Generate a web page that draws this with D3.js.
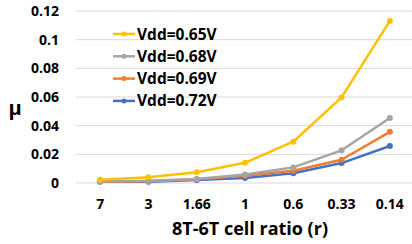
<!DOCTYPE html>
<html><head><meta charset="utf-8">
<script src="https://cdn.jsdelivr.net/npm/d3@7"></script>
<style>body{margin:0;background:#fff;} svg{display:block;}</style>
</head><body>
<svg id="c" width="412" height="244"></svg>
<script>
const categories = ["7","3","1.66","1","0.6","0.33","0.14"];
const seriesNames = ["Vdd=0.65V","Vdd=0.68V","Vdd=0.69V","Vdd=0.72V"];
const v065 = [0.0023,0.0040,0.0075,0.0141,0.0288,0.0597,0.1131];
const v068 = [0.0010,0.0015,0.0028,0.0060,0.0109,0.0228,0.0453];
const v069 = [0.0010,0.0013,0.0027,0.0050,0.0086,0.0162,0.0357];
const v072 = [0.0009,0.0009,0.0021,0.0035,0.0068,0.0139,0.0258];
const yTicks = [0,0.02,0.04,0.06,0.08,0.1,0.12];
const colors = ["#FFC000","#A5A5A5","#ED7D31","#4472C4"];
const seriesValues = [v065,v068,v069,v072];

(function(){
const svg = d3.select("#c");
const font = "'Open Sans', 'Liberation Sans', sans-serif";
const pL = 76, pR = 414, pT = 11, pB = 183;
const x = d3.scaleBand().domain(categories).range([pL, pR]);
const y = d3.scaleLinear().domain([0,0.12]).range([pB, pT]);

svg.append("g").selectAll("line").data(yTicks).join("line")
  .attr("x1", pL).attr("x2", pR)
  .attr("y1", d=>y(d)).attr("y2", d=>y(d))
  .attr("stroke", "#d9d9d9").attr("stroke-width", 1);

const yAxis = d3.axisLeft(y).tickValues(yTicks).tickSize(0).tickPadding(0)
  .tickFormat(d=>String(+d.toFixed(2)));
const ya = svg.append("g").attr("transform", `translate(59,0)`).call(yAxis);
ya.select(".domain").remove();
ya.selectAll("text").attr("font-family", font).attr("font-weight", "bold")
  .attr("font-size", 14).attr("fill", "#000");

const xAxis = d3.axisBottom(x).tickSize(0).tickPadding(0);
const xa = svg.append("g").attr("transform", `translate(0,199)`).call(xAxis);
xa.select(".domain").remove();
xa.selectAll("text").attr("font-family", font).attr("font-weight", "bold")
  .attr("font-size", 14).attr("fill", "#000");

svg.append("text").attr("x", 250).attr("y", 235).attr("text-anchor", "middle")
  .attr("font-family", font).attr("font-weight", "bold").attr("font-size", 18)
  .attr("fill", "#000").text("8T-6T cell ratio (r)");
svg.append("text").attr("x", 15).attr("y", 115).attr("text-anchor", "middle")
  .attr("font-family", font).attr("font-weight", "bold").attr("font-size", 20)
  .attr("fill", "#000").text("μ");

const line = d3.line().x((d,i)=>x(categories[i]) + x.bandwidth()/2).y(d=>y(d));
[3,2,1,0].forEach(k => {
  const g = svg.append("g");
  g.append("path").attr("d", line(seriesValues[k])).attr("fill", "none")
    .attr("stroke", colors[k]).attr("stroke-width", 2.5).attr("stroke-linejoin", "round");
  g.selectAll("circle").data(seriesValues[k]).join("circle")
    .attr("cx", (d,i)=>x(categories[i]) + x.bandwidth()/2).attr("cy", d=>y(d))
    .attr("r", 3).attr("fill", colors[k]);
});

const lg = svg.append("g");
seriesNames.forEach((n,i) => {
  const yy = 34 + i*22.3;
  lg.append("line").attr("x1", 113).attr("x2", 135).attr("y1", yy).attr("y2", yy)
    .attr("stroke", colors[i]).attr("stroke-width", 2.5);
  lg.append("circle").attr("cx", 124).attr("cy", yy).attr("r", 2.5).attr("fill", colors[i]);
  lg.append("text").attr("x", 137).attr("y", yy + 5.5).attr("font-family", font)
    .attr("font-weight", "bold").attr("font-size", 15.5).attr("fill", "#000").text(n);
});
})();
</script>
</body></html>
